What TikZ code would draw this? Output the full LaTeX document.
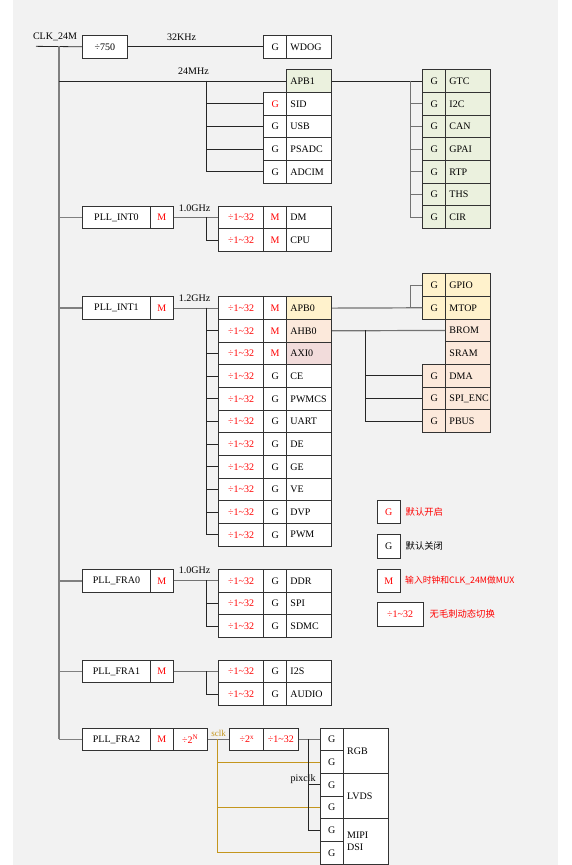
\documentclass[tikz,border=0pt]{standalone}
\usepackage{fontspec}
\setmainfont{Liberation Serif}
\newfontfamily\cjkfont{Noto Sans CJK SC}
\usetikzlibrary{positioning}
\definecolor{custom-red}{RGB}{255, 0, 0}
\definecolor{custom-gray}{RGB}{242, 242, 242}
\definecolor{custom-green}{RGB}{235, 241, 222}
\definecolor{custom-yellow}{RGB}{255, 242, 204}
\definecolor{custom-peach}{RGB}{252, 233, 219}
\definecolor{custom-rose}{RGB}{242, 220, 219}
\definecolor{custom-gold}{RGB}{196, 150, 30}
\newcommand{\divrange}{÷1\textasciitilde 32}

\begin{document}
\begin{tikzpicture}[x=1pt, y=-1pt,
    box/.style={draw=black!80, line width=0.9pt, fill=white, minimum height=22.67pt, inner sep=0pt, anchor=north west, font=\fontsize{10}{12}\selectfont},
    gbox/.style={box, minimum width=22.67pt},
    mbox/.style={gbox, text=custom-red},
    divbox/.style={box, minimum width=45.33pt, text=custom-red},
    namebox/.style={box, minimum width=45.33pt, text width=37.33pt, inner xsep=4pt, align=left},
    pllbox/.style={box, minimum width=68pt},
    wire/.style={draw=black!85, line width=0.8pt},
    bus/.style={draw=black!55, line width=1.2pt},
    trunk/.style={draw=black!50, line width=1.6pt},
    sclkwire/.style={draw=custom-gold, line width=1pt},
    freq/.style={font=\fontsize{10}{12}\selectfont, inner sep=0pt},
    keytext/.style={font=\cjkfont\fontsize{9.3}{11}\selectfont, inner sep=0pt, anchor=west}]
\useasboundingbox (0,0) rectangle (572,865);
\fill[white] (0,0) rectangle (572,865);
\fill[custom-gray] (13,0) rectangle (558,865);

% CLK_24M and WDOG
\node[freq] (clk-text) at (55,37) {CLK\_24M};
\coordinate (clk) at (36,46.33);
\coordinate (trunk) at (59,46.33);
\node[box, minimum width=45pt] (div750) at (82,35) {÷750};
\node[freq] (khz) at (181.5,37) {32KHz};
\node[gbox] (wdog-g) at (263.33,35) {G};
\node[namebox] (wdog) at (286,35) {WDOG};

% 24MHz
\node[freq] (mhz) at (193.5,71) {24MHz};
\node[namebox, fill=custom-green] (apb1) at (286,69.33) {APB1};
\node[gbox, text=custom-red] (sid-g) at (263.33,92) {G};
\node[namebox] (sid) at (286,92) {SID};
\node[gbox] (usb-g) at (263.33,114.67) {G};
\node[namebox] (usb) at (286,114.67) {USB};
\node[gbox] (psadc-g) at (263.33,137.33) {G};
\node[namebox] (psadc) at (286,137.33) {PSADC};
\node[gbox] (adcim-g) at (263.33,160) {G};
\node[namebox] (adcim) at (286,160) {ADCIM};

% APB1 group
\node[gbox, fill=custom-green] (gtc-g) at (422.33,69.33) {G};
\node[namebox, fill=custom-green] (gtc) at (445,69.33) {GTC};
\node[gbox, fill=custom-green] (i2c-g) at (422.33,92) {G};
\node[namebox, fill=custom-green] (i2c) at (445,92) {I2C};
\node[gbox, fill=custom-green] (can-g) at (422.33,114.67) {G};
\node[namebox, fill=custom-green] (can) at (445,114.67) {CAN};
\node[gbox, fill=custom-green] (gpai-g) at (422.33,137.33) {G};
\node[namebox, fill=custom-green] (gpai) at (445,137.33) {GPAI};
\node[gbox, fill=custom-green] (rtp-g) at (422.33,160) {G};
\node[namebox, fill=custom-green] (rtp) at (445,160) {RTP};
\node[gbox, fill=custom-green] (ths-g) at (422.33,182.67) {G};
\node[namebox, fill=custom-green] (ths) at (445,182.67) {THS};
\node[gbox, fill=custom-green] (cir-g) at (422.33,205.33) {G};
\node[namebox, fill=custom-green] (cir) at (445,205.33) {CIR};

% PLL_INT0
\node[pllbox] (int0) at (82,205.67) {PLL\_INT0};
\node[mbox] (int0-m) at (150,205.67) {M};
\node[freq] (int0-freq) at (194.67,208.5) {1.0GHz};
\node[divbox] (dm-div) at (218,205.67) {\divrange};
\node[mbox] (dm-m) at (263.33,205.67) {M};
\node[namebox] (dm) at (286,205.67) {DM};
\node[divbox] (cpu-div) at (218,228.33) {\divrange};
\node[mbox] (cpu-m) at (263.33,228.33) {M};
\node[namebox] (cpu) at (286,228.33) {CPU};

% PLL_INT1
\node[pllbox] (int1) at (82,296.33) {PLL\_INT1};
\node[mbox] (int1-m) at (150,296.33) {M};
\node[freq] (int1-freq) at (194.67,298.5) {1.2GHz};
\node[divbox] (apb0-div) at (218,296.33) {\divrange};
\node[mbox] (apb0-m) at (263.33,296.33) {M};
\node[namebox, fill=custom-yellow] (apb0) at (286,296.33) {APB0};
\node[divbox] (ahb0-div) at (218,319) {\divrange};
\node[mbox] (ahb0-m) at (263.33,319) {M};
\node[namebox, fill=custom-peach] (ahb0) at (286,319) {AHB0};
\node[divbox] (axi0-div) at (218,341.67) {\divrange};
\node[mbox] (axi0-m) at (263.33,341.67) {M};
\node[namebox, fill=custom-rose] (axi0) at (286,341.67) {AXI0};
\node[divbox] (ce-div) at (218,364.33) {\divrange};
\node[gbox] (ce-g) at (263.33,364.33) {G};
\node[namebox] (ce) at (286,364.33) {CE};
\node[divbox] (pwmcs-div) at (218,387) {\divrange};
\node[gbox] (pwmcs-g) at (263.33,387) {G};
\node[namebox] (pwmcs) at (286,387) {PWMCS};
\node[divbox] (uart-div) at (218,409.67) {\divrange};
\node[gbox] (uart-g) at (263.33,409.67) {G};
\node[namebox] (uart) at (286,409.67) {UART};
\node[divbox] (de-div) at (218,432.33) {\divrange};
\node[gbox] (de-g) at (263.33,432.33) {G};
\node[namebox] (de) at (286,432.33) {DE};
\node[divbox] (ge-div) at (218,455) {\divrange};
\node[gbox] (ge-g) at (263.33,455) {G};
\node[namebox] (ge) at (286,455) {GE};
\node[divbox] (ve-div) at (218,477.67) {\divrange};
\node[gbox] (ve-g) at (263.33,477.67) {G};
\node[namebox] (ve) at (286,477.67) {VE};
\node[divbox] (dvp-div) at (218,500.33) {\divrange};
\node[gbox] (dvp-g) at (263.33,500.33) {G};
\node[namebox] (dvp) at (286,500.33) {DVP};
\node[divbox] (pwm-div) at (218,523) {\divrange};
\node[gbox] (pwm-g) at (263.33,523) {G};
\node[namebox] (pwm) at (286,523) {PWM};

% APB0 and AHB0 group
\node[gbox, fill=custom-yellow] (gpio-g) at (422.33,273.33) {G};
\node[namebox, fill=custom-yellow] (gpio) at (445,273.33) {GPIO};
\node[gbox, fill=custom-yellow] (mtop-g) at (422.33,296) {G};
\node[namebox, fill=custom-yellow] (mtop) at (445,296) {MTOP};
\node[namebox, fill=custom-peach] (brom) at (445,318.67) {BROM};
\node[namebox, fill=custom-peach] (sram) at (445,341.33) {SRAM};
\node[gbox, fill=custom-peach] (dma-g) at (422.33,364) {G};
\node[namebox, fill=custom-peach] (dma) at (445,364) {DMA};
\node[gbox, fill=custom-peach] (spienc-g) at (422.33,386.67) {G};
\node[namebox, fill=custom-peach] (spienc) at (445,386.67) {SPI\_ENC};
\node[gbox, fill=custom-peach] (pbus-g) at (422.33,409.33) {G};
\node[namebox, fill=custom-peach] (pbus) at (445,409.33) {PBUS};

% legend
\node[gbox, minimum width=23.33pt, minimum height=23.33pt, text=custom-red] (key-on) at (376.67,500) {G};
\node[keytext, text=custom-red] (key-on-text) at (405.5,512) {默认开启};
\node[gbox, minimum width=23.33pt, minimum height=23.33pt] (key-off) at (376.67,534.33) {G};
\node[keytext] (key-off-text) at (405.5,546) {默认关闭};
\node[gbox, minimum width=23.33pt, minimum height=23.33pt, text=custom-red] (key-mux) at (376.67,568.67) {M};
\node[keytext, font=\cjkfont\fontsize{8.8}{11}\selectfont, text=custom-red] (key-mux-text) at (405,580) {输入时钟和CLK\_24M做MUX};
\node[box, minimum width=46pt, minimum height=23.33pt, text=custom-red] (key-div) at (376.67,602.33) {\divrange};
\node[keytext, text=custom-red] (key-div-text) at (429.5,614) {无毛刺动态切换};

% PLL_FRA0
\node[pllbox] (fra0) at (82,569) {PLL\_FRA0};
\node[mbox] (fra0-m) at (150,569) {M};
\node[freq] (fra0-freq) at (194.67,570.5) {1.0GHz};
\node[divbox] (ddr-div) at (218,569) {\divrange};
\node[gbox] (ddr-g) at (263.33,569) {G};
\node[namebox] (ddr) at (286,569) {DDR};
\node[divbox] (spi-div) at (218,591.67) {\divrange};
\node[gbox] (spi-g) at (263.33,591.67) {G};
\node[namebox] (spi) at (286,591.67) {SPI};
\node[divbox] (sdmc-div) at (218,614.33) {\divrange};
\node[gbox] (sdmc-g) at (263.33,614.33) {G};
\node[namebox] (sdmc) at (286,614.33) {SDMC};

% PLL_FRA1
\node[pllbox] (fra1) at (82,659.67) {PLL\_FRA1};
\node[mbox] (fra1-m) at (150,659.67) {M};
\node[divbox] (i2s-div) at (218,659.67) {\divrange};
\node[gbox] (i2s-g) at (263.33,659.67) {G};
\node[namebox] (i2s) at (286,659.67) {I2S};
\node[divbox] (audio-div) at (218,682.33) {\divrange};
\node[gbox] (audio-g) at (263.33,682.33) {G};
\node[namebox] (audio) at (286,682.33) {AUDIO};

% PLL_FRA2
\node[pllbox] (fra2) at (82,727.67) {PLL\_FRA2};
\node[mbox] (fra2-m) at (150,727.67) {M};
\node[box, minimum width=34pt, text=custom-red] (fra2-pow) at (172.67,727.67) {÷2\textsuperscript{N}};
\node[freq, font=\fontsize{9}{11}\selectfont, text=custom-gold] (sclk-text) at (218.5,733) {sclk};
\node[box, minimum width=34pt, text=custom-red] (sclk-pow) at (229.33,727.67) {÷2\textsuperscript{x}};
\node[box, minimum width=34.33pt, text=custom-red] (sclk-div) at (263.33,727.67) {\divrange};
\node[freq] (pix-text) at (303,779) {pixclk};
\node[gbox] (rgb1-g) at (320,727.67) {G};
\node[gbox] (rgb2-g) at (320,750.33) {G};
\node[gbox] (lvds1-g) at (320,773) {G};
\node[gbox] (lvds2-g) at (320,795.67) {G};
\node[gbox] (mipi1-g) at (320,818.33) {G};
\node[gbox] (mipi2-g) at (320,841) {G};
\node[namebox, minimum height=45.33pt] (rgb) at (342.67,727.67) {RGB};
\node[namebox, minimum height=45.33pt] (lvds) at (342.67,773) {LVDS};
\node[namebox, minimum height=45.33pt] (mipi) at (342.67,818.33) {MIPI\\DSI};

% wires
\draw[wire] (clk) -- (div750.west);
\draw[trunk] (trunk) -- (trunk |- fra2.west);
\draw[wire] (div750.east) -- (wdog-g.west);
\draw[wire] (trunk |- apb1.west) -- (apb1.west);
\coordinate (b24) at (206.67,80.67);
\draw[wire] (b24) |- (adcim-g.west);
\draw[wire] (b24 |- sid-g.west) -- (sid-g.west);
\draw[wire] (b24 |- usb-g.west) -- (usb-g.west);
\draw[wire] (b24 |- psadc-g.west) -- (psadc-g.west);
\draw[wire] (apb1.east) -- (gtc-g.west);
\coordinate (r1) at (410.67,80.67);
\draw[bus] (r1) |- (cir-g.west);
\draw[bus] (r1 |- i2c-g.west) -- (i2c-g.west);
\draw[bus] (r1 |- can-g.west) -- (can-g.west);
\draw[bus] (r1 |- gpai-g.west) -- (gpai-g.west);
\draw[bus] (r1 |- rtp-g.west) -- (rtp-g.west);
\draw[bus] (r1 |- ths-g.west) -- (ths-g.west);

\draw[trunk] (trunk |- int0.west) -- (int0.west);
\draw[bus] (int0-m.east) -- (dm-div.west);
\coordinate (b0) at (206.67,217);
\draw[wire] (b0) |- (cpu-div.west);

\draw[trunk] (trunk |- int1.west) -- (int1.west);
\draw[bus] (int1-m.east) -- (apb0-div.west);
\coordinate (b1) at (206.67,307.67);
\draw[wire] (b1) |- (pwm-div.west);
\draw[wire] (b1 |- ahb0-div.west) -- (ahb0-div.west);
\draw[wire] (b1 |- axi0-div.west) -- (axi0-div.west);
\draw[wire] (b1 |- ce-div.west) -- (ce-div.west);
\draw[wire] (b1 |- pwmcs-div.west) -- (pwmcs-div.west);
\draw[wire] (b1 |- uart-div.west) -- (uart-div.west);
\draw[wire] (b1 |- de-div.west) -- (de-div.west);
\draw[wire] (b1 |- ge-div.west) -- (ge-div.west);
\draw[wire] (b1 |- ve-div.west) -- (ve-div.west);
\draw[wire] (b1 |- dvp-div.west) -- (dvp-div.west);
\draw[bus] (apb0.east) -- (mtop-g.west);
\coordinate (r2) at (410.67,307.67);
\draw[bus] (r2) |- (gpio-g.west);
\draw[bus] (ahb0.east) -- (brom.west);
\coordinate (b2) at (365.33,330.33);
\draw[wire] (b2) |- (pbus-g.west);
\draw[wire] (b2 |- dma-g.west) -- (dma-g.west);
\draw[wire] (b2 |- spienc-g.west) -- (spienc-g.west);

\draw[trunk] (trunk |- fra0.west) -- (fra0.west);
\draw[bus] (fra0-m.east) -- (ddr-div.west);
\coordinate (b3) at (206.67,580.33);
\draw[wire] (b3) |- (sdmc-div.west);
\draw[wire] (b3 |- spi-div.west) -- (spi-div.west);

\draw[trunk] (trunk |- fra1.west) -- (fra1.west);
\draw[bus] (fra1-m.east) -- (i2s-div.west);
\coordinate (b4) at (206.67,671);
\draw[wire] (b4) |- (audio-div.west);

\draw[trunk] (trunk |- fra2.west) -- (fra2.west);
\draw[bus] (fra2-pow.east) -- (sclk-pow.west);
\coordinate (sclk) at (217.67,739);
\draw[sclkwire] (sclk) |- (mipi2-g.west);
\draw[sclkwire] (sclk |- rgb2-g.west) -- (rgb2-g.west);
\draw[sclkwire] (sclk |- lvds2-g.west) -- (lvds2-g.west);
\draw[bus] (sclk-div.east) -- (rgb1-g.west);
\coordinate (pix) at (308.33,739);
\draw[wire] (pix) |- (mipi1-g.west);
\draw[wire] (pix |- lvds1-g.west) -- (lvds1-g.west);
\end{tikzpicture}
\end{document}
